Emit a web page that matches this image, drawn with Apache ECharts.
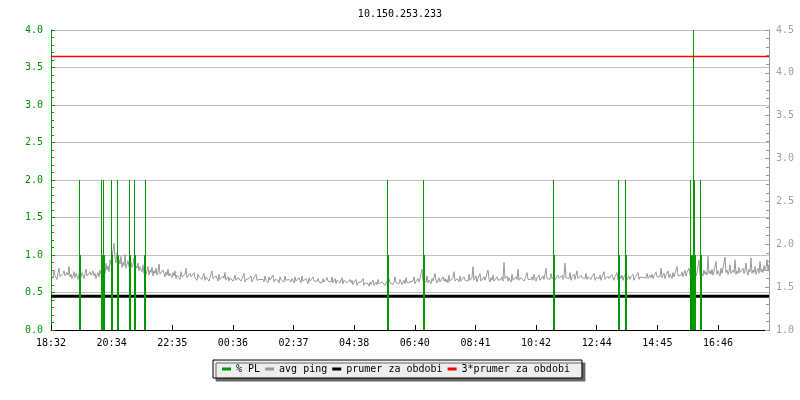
<!DOCTYPE html>
<html><head><meta charset="utf-8">
<script src="https://cdn.jsdelivr.net/npm/echarts@6/dist/echarts.min.js"></script>
<style>html,body{margin:0;padding:0;background:#fff}#c{width:800px;height:400px}</style>
</head><body><div id="c"></div>
<script>
const titleText = '10.150.253.233';
const tickLabels = ['18:32','20:34','22:35','00:36','02:37','04:38','06:40','08:41','10:42','12:44','14:45','16:46'];
const leftTicks = ['0.0','0.5','1.0','1.5','2.0','2.5','3.0','3.5','4.0'];
const rightTicks = ['1.0','1.5','2.0','2.5','3.0','3.5','4.0','4.5'];
const seriesNames = ['% PL','avg ping','prumer za obdobi','3*prumer za obdobi'];
// avg ping: one sample every 2 minutes from 18:32 (one row = one hour)
const pingStep = 2;
const avgPing = [
1.64,1.66,1.61,1.70,1.63,1.65,1.59,1.67,1.72,1.62,1.64,1.60,1.66,1.69,1.63,1.61,1.67,1.64,1.74,1.62,1.65,1.60,1.63,1.68,1.61,1.66,1.63,1.59,1.65,1.70,
1.62,1.67,1.64,1.60,1.66,1.71,1.63,1.65,1.61,1.68,1.64,1.62,1.69,1.63,1.66,1.60,1.64,1.67,1.62,1.70,1.65,1.63,1.68,1.74,1.66,1.78,1.70,1.75,1.68,1.82,
1.76,1.85,1.93,2.01,1.84,1.78,1.90,1.74,1.82,1.77,1.86,1.73,1.79,1.75,1.88,1.72,1.77,1.81,1.74,1.70,1.79,1.73,1.76,1.84,1.71,1.75,1.72,1.78,1.69,1.74,
1.72,1.68,1.76,1.66,1.71,1.65,1.69,1.74,1.64,1.70,1.67,1.73,1.63,1.69,1.66,1.72,1.64,1.68,1.77,1.65,1.67,1.63,1.70,1.66,1.62,1.68,1.64,1.71,1.63,1.66,
1.65,1.61,1.67,1.63,1.69,1.60,1.64,1.62,1.66,1.59,1.68,1.62,1.64,1.60,1.65,1.72,1.61,1.63,1.59,1.66,1.62,1.64,1.60,1.67,1.61,1.63,1.58,1.65,1.62,1.60,
1.63,1.59,1.61,1.66,1.58,1.62,1.60,1.64,1.57,1.61,1.59,1.69,1.60,1.62,1.58,1.63,1.60,1.57,1.65,1.59,1.61,1.58,1.63,1.60,1.67,1.58,1.60,1.62,1.57,1.61,
1.59,1.62,1.57,1.60,1.64,1.58,1.56,1.61,1.59,1.63,1.57,1.60,1.58,1.66,1.56,1.59,1.61,1.57,1.60,1.58,1.63,1.56,1.59,1.61,1.57,1.65,1.58,1.60,1.56,1.59,
1.61,1.57,1.59,1.56,1.63,1.58,1.60,1.55,1.62,1.58,1.57,1.60,1.64,1.56,1.59,1.57,1.61,1.58,1.55,1.62,1.59,1.57,1.60,1.56,1.63,1.58,1.60,1.57,1.59,1.61,
1.56,1.60,1.58,1.55,1.62,1.57,1.59,1.56,1.61,1.58,1.55,1.63,1.57,1.59,1.56,1.60,1.58,1.54,1.61,1.57,1.59,1.56,1.62,1.57,1.55,1.59,1.57,1.60,1.56,1.58,
1.57,1.55,1.60,1.56,1.58,1.54,1.61,1.57,1.55,1.59,1.56,1.62,1.55,1.57,1.60,1.54,1.58,1.56,1.59,1.55,1.57,1.61,1.54,1.58,1.56,1.60,1.55,1.57,1.54,1.59,
1.55,1.58,1.53,1.56,1.54,1.59,1.52,1.55,1.57,1.53,1.56,1.54,1.60,1.52,1.55,1.53,1.57,1.54,1.51,1.56,1.53,1.55,1.58,1.52,1.54,1.56,1.53,1.59,1.54,1.55,
1.53,1.56,1.54,1.58,1.52,1.55,1.57,1.53,1.60,1.55,1.54,1.57,1.53,1.56,1.62,1.55,1.53,1.57,1.54,1.59,1.56,1.53,1.55,1.58,1.54,1.61,1.55,1.57,1.54,1.56,
1.58,1.55,1.57,1.62,1.54,1.57,1.55,1.60,1.56,1.58,1.54,1.71,1.57,1.55,1.59,1.56,1.63,1.55,1.58,1.56,1.54,1.60,1.57,1.55,1.66,1.58,1.55,1.57,1.61,1.56,
1.58,1.55,1.62,1.57,1.60,1.56,1.59,1.55,1.64,1.57,1.59,1.56,1.61,1.68,1.57,1.55,1.60,1.58,1.56,1.63,1.57,1.59,1.55,1.62,1.58,1.56,1.60,1.57,1.65,1.58,
1.56,1.61,1.74,1.58,1.57,1.63,1.56,1.60,1.58,1.66,1.57,1.59,1.55,1.62,1.58,1.60,1.57,1.70,1.59,1.56,1.61,1.58,1.64,1.57,1.59,1.56,1.62,1.58,1.60,1.57,
1.59,1.62,1.57,1.79,1.60,1.58,1.63,1.57,1.61,1.59,1.56,1.65,1.58,1.60,1.57,1.62,1.59,1.71,1.58,1.56,1.61,1.59,1.63,1.57,1.60,1.58,1.67,1.59,1.57,1.61,
1.59,1.62,1.58,1.65,1.60,1.57,1.61,1.59,1.64,1.58,1.60,1.57,1.63,1.59,1.61,1.72,1.60,1.58,1.62,1.59,1.66,1.60,1.58,1.63,1.59,1.61,1.57,1.64,1.60,1.62,
1.60,1.64,1.59,1.62,1.78,1.61,1.59,1.63,1.60,1.67,1.58,1.62,1.60,1.65,1.59,1.61,1.69,1.60,1.62,1.58,1.64,1.61,1.59,1.63,1.60,1.66,1.59,1.62,1.60,1.63,
1.59,1.62,1.60,1.66,1.58,1.61,1.63,1.59,1.60,1.64,1.58,1.62,1.60,1.68,1.59,1.61,1.58,1.63,1.60,1.62,1.59,1.65,1.61,1.58,1.62,1.60,1.67,1.59,1.61,1.63,
1.60,1.64,1.58,1.62,1.60,1.66,1.59,1.61,1.63,1.59,1.62,1.60,1.65,1.58,1.61,1.63,1.60,1.67,1.59,1.62,1.60,1.64,1.61,1.59,1.63,1.61,1.66,1.60,1.62,1.64,
1.61,1.65,1.60,1.63,1.61,1.68,1.62,1.60,1.64,1.62,1.72,1.61,1.63,1.66,1.60,1.64,1.62,1.69,1.61,1.65,1.63,1.60,1.67,1.62,1.64,1.61,1.74,1.63,1.65,1.62,
1.64,1.68,1.62,1.66,1.70,1.63,1.67,1.65,1.72,1.64,1.62,1.69,1.66,1.64,1.75,1.63,1.67,1.65,1.82,1.64,1.68,1.66,1.63,1.70,1.65,1.68,1.64,1.86,1.66,1.69,
1.65,1.71,1.64,1.68,1.66,1.80,1.65,1.69,1.67,1.63,1.72,1.66,1.68,1.64,1.85,1.67,1.70,1.65,1.68,1.76,1.66,1.64,1.70,1.67,1.82,1.65,1.69,1.66,1.73,1.67,
1.68,1.65,1.72,1.66,1.70,1.78,1.67,1.64,1.71,1.68,1.84,1.66,1.70,1.67,1.74,1.65,1.69,1.72,1.66,1.80,1.68,1.71,1.67,1.75,1.69,1.73,1.82,1.70,1.76,1.68
];
// packet loss: minute (after 18:32) and value, only non-zero minutes
const plMinutes = [56,57,58, 100,101,102,103,104,105,106, 120,121,122, 132,133,134, 156,157,158, 166,167,168, 187,188,189,
  672,673,674, 744,745,746, 1004,1005,1006, 1134,1135,1136, 1148,1149,1150,
  1278,1279,1280,1281,1282,1283,1284,1285,1286,1287,1288, 1298,1299,1300];
const plValues  = [1,2,1, 1,2,1,1,1,2,1, 1,2,1, 1,2,1, 1,2,1, 1,2,1, 1,2,1,
  1,2,1, 1,2,1, 1,2,1, 1,2,1, 1,2,1,
  1,2,1,1,1,1,1,4,1,2,1, 1,2,1];
const prumer = 1.395;
const prumer3 = 4.19;
const spanMin = 1436;

const xStep = 121.27;
const FONT = 'DejaVu Sans Mono';
const GREEN = '#009900';

const pingData = avgPing.map((v, i) => [i * pingStep, v]);
const plData = plMinutes.map((m, i) => [m, plValues[i]]);

const chart = echarts.init(document.getElementById('c'), null, {renderer: 'canvas'});
chart.setOption({
  animation: false,
  backgroundColor: '#ffffff',
  title: {text: titleText, left: 'center', top: 4,
    textStyle: {fontFamily: FONT, fontSize: 10, fontWeight: 'normal', color: '#000'}},
  grid: {left: 51, right: 31, top: 30, bottom: 70, containLabel: false},
  legend: {
    data: seriesNames, bottom: 22, left: 213,
    icon: 'rect', itemWidth: 9, itemHeight: 3, itemGap: 5,
    padding: [4, 12, 4, 9],
    backgroundColor: '#eeeeee', borderColor: '#000', borderWidth: 1,
    shadowColor: '#666', shadowOffsetX: 3, shadowOffsetY: 3, shadowBlur: 0,
    textStyle: {fontFamily: FONT, fontSize: 10, color: '#000'}
  },
  xAxis: {
    type: 'value', min: 0, max: spanMin, interval: xStep,
    axisLine: {lineStyle: {color: '#000', width: 1}},
    axisTick: {inside: true, length: 5, lineStyle: {color: '#000'}},
    splitLine: {show: false},
    axisLabel: {fontFamily: FONT, fontSize: 10, color: '#000', margin: 8, showMaxLabel: false,
      formatter: v => tickLabels[Math.round(v / xStep)] || ''}
  },
  yAxis: [{
    type: 'value', min: 0, max: 4, interval: 0.5,
    axisLine: {show: true, lineStyle: {color: GREEN, width: 1}},
    axisTick: {show: true, inside: true, length: 4, lineStyle: {color: GREEN}},
    minorTick: {show: true, splitNumber: 5, length: 3, lineStyle: {color: GREEN}},
    splitLine: {show: true, lineStyle: {color: '#c0c0c0', width: 1}},
    axisLabel: {fontFamily: FONT, fontSize: 10, color: GREEN, margin: 8,
      formatter: v => leftTicks[Math.round(v / 0.5)]}
  }, {
    type: 'value', min: 1, max: 4.5, interval: 0.5, position: 'right',
    axisLine: {show: true, lineStyle: {color: '#999', width: 1}},
    axisTick: {show: true, inside: true, length: 4, lineStyle: {color: '#999'}},
    minorTick: {show: true, splitNumber: 5, length: 3, lineStyle: {color: '#999'}},
    splitLine: {show: false},
    axisLabel: {fontFamily: FONT, fontSize: 10, color: '#a0a0a0', margin: 7,
      formatter: v => rightTicks[Math.round((v - 1) / 0.5)]}
  }],
  series: [
    {name: seriesNames[1], type: 'line', yAxisIndex: 1, data: pingData, showSymbol: false,
      lineStyle: {color: '#999999', width: 1}, itemStyle: {color: '#999999'}, z: 2},
    {name: seriesNames[2], type: 'line', yAxisIndex: 1, data: [[0, prumer], [spanMin, prumer]], showSymbol: false,
      lineStyle: {color: '#000000', width: 3}, itemStyle: {color: '#000000'}, z: 3},
    {name: seriesNames[0], type: 'custom', yAxisIndex: 0, data: plData, encode: {x: 0, y: 1},
      itemStyle: {color: GREEN}, z: 4,
      renderItem: function (params, api) {
        const t = api.value(0), v = api.value(1);
        const top = api.coord([t - 0.5, v]);
        const bot = api.coord([t + 0.5, 0]);
        const x0 = Math.round(top[0]);
        const x1 = Math.max(x0 + 1, Math.round(bot[0]));
        return {type: 'rect', shape: {x: x0, y: top[1], width: x1 - x0, height: bot[1] - top[1]},
          style: {fill: GREEN}};
      }},
    {name: seriesNames[3], type: 'line', yAxisIndex: 1, data: [[0, prumer3], [spanMin, prumer3]], showSymbol: false,
      lineStyle: {color: '#ff0000', width: 1.5}, itemStyle: {color: '#ff0000'}, z: 5}
  ]
});
</script></body></html>
